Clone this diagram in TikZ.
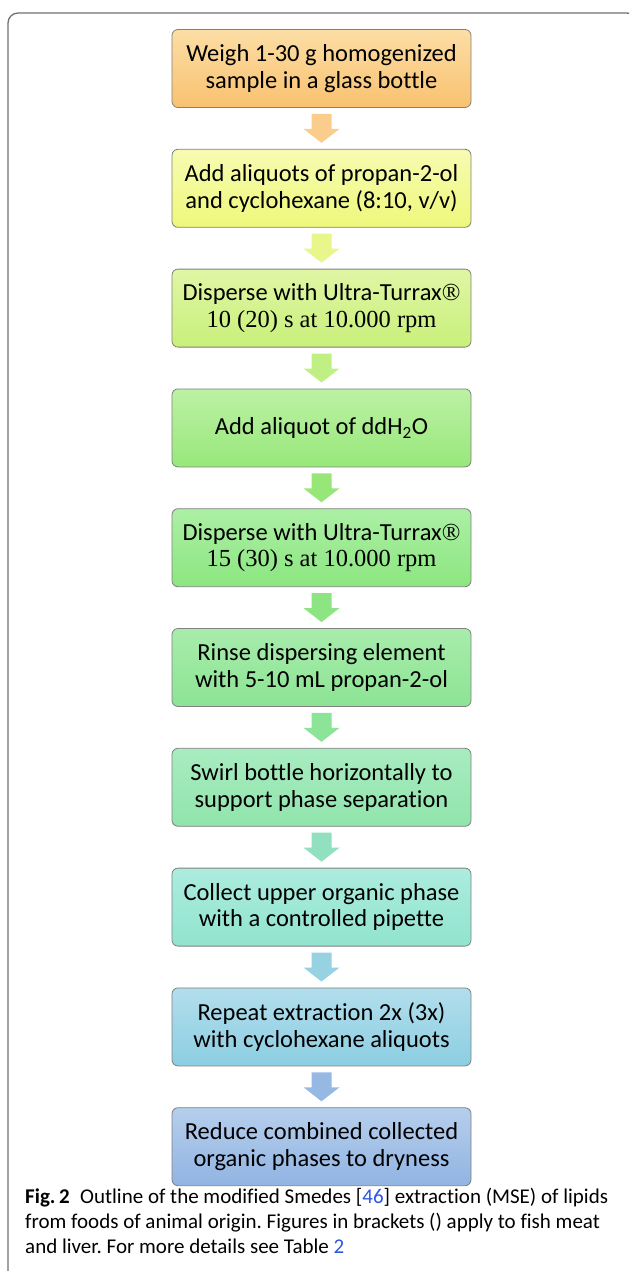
\documentclass[tikz,border=0pt]{standalone}
\usepackage{fontspec}
\setmainfont{Carlito}[Ligatures=NoCommon]
\newfontfamily\serfont{Liberation Serif}
\usepackage{tikz}
\usetikzlibrary{positioning,calc}
\frenchspacing

\definecolor{framegray}{RGB}{112,112,112}
\definecolor{boxline}{RGB}{128,128,128}
\definecolor{linkblue}{RGB}{45,85,225}
\definecolor{topA}{RGB}{252,222,165}\definecolor{botA}{RGB}{249,193,112}
\definecolor{topB}{RGB}{247,251,178}\definecolor{botB}{RGB}{238,248,122}
\definecolor{topC}{RGB}{224,246,165}\definecolor{botC}{RGB}{200,240,122}
\definecolor{topD}{RGB}{188,241,165}\definecolor{botD}{RGB}{152,232,122}
\definecolor{topE}{RGB}{172,239,165}\definecolor{botE}{RGB}{140,230,128}
\definecolor{topF}{RGB}{168,236,172}\definecolor{botF}{RGB}{140,228,148}
\definecolor{topG}{RGB}{168,236,192}\definecolor{botG}{RGB}{145,228,172}
\definecolor{topH}{RGB}{172,236,222}\definecolor{botH}{RGB}{145,228,206}
\definecolor{topI}{RGB}{178,222,236}\definecolor{botI}{RGB}{140,206,226}
\definecolor{topJ}{RGB}{182,206,236}\definecolor{botJ}{RGB}{145,180,226}
\definecolor{arrA}{RGB}{250,205,140}
\definecolor{arrB}{RGB}{232,246,140}
\definecolor{arrC}{RGB}{192,240,132}
\definecolor{arrD}{RGB}{150,230,120}
\definecolor{arrE}{RGB}{140,228,130}
\definecolor{arrF}{RGB}{140,228,152}
\definecolor{arrG}{RGB}{145,225,192}
\definecolor{arrH}{RGB}{150,210,226}
\definecolor{arrI}{RGB}{150,185,228}

\begin{document}
\begin{tikzpicture}[x=1pt,y=1pt,
  stepbox/.style 2 args={draw=boxline,line width=0.8pt,rounded corners=6pt,
    top color=#1,bottom color=#2,minimum width=299pt,minimum height=78pt,
    align=center,inner sep=0pt,font=\fontsize{24.5}{26.5}\selectfont},
  node distance=41pt]

  \useasboundingbox (0,0) rectangle (629,-1271);
  \clip (0,0) rectangle (629,-1271);

  % outer frame of the figure
  \draw[framegray,line width=1.3pt,rounded corners=10pt]
    (8,-1300) -- (8,-13) -- (637,-13) -- (637,-60);

  % steps of the extraction
  \node[stepbox={topA}{botA}] (weigh) at (321.5,-68.5)
    {Weigh 1-30 g homogenized\\sample in a glass bottle};
  \node[stepbox={topB}{botB},below=of weigh] (solvents)
    {Add aliquots of propan-2-ol\\and cyclohexane (8:10, v/v)};
  \node[stepbox={topC}{botC},below=of solvents] (dispA)
    {Disperse with Ultra-Turrax{\serfont ®}\\{\serfont 10 (20) s at 10.000 rpm}};
  \node[stepbox={topD}{botD},below=of dispA] (water)
    {Add aliquot of ddH\textsubscript{2}O};
  \node[stepbox={topE}{botE},below=of water] (dispB)
    {Disperse with Ultra-Turrax{\serfont ®}\\{\serfont 15 (30) s at 10.000 rpm}};
  \node[stepbox={topF}{botF},below=of dispB] (rinse)
    {Rinse dispersing element\\with 5-10 mL propan-2-ol};
  \node[stepbox={topG}{botG},below=of rinse] (swirl)
    {Swirl bottle horizontally to\\support phase separation};
  \node[stepbox={topH}{botH},below=of swirl] (collect)
    {Collect upper organic phase\\with a controlled pipette};
  \node[stepbox={topI}{botI},below=of collect] (repeat)
    {Repeat extraction 2x (3x)\\with cyclohexane aliquots};
  \node[stepbox={topJ}{botJ},below=of repeat] (reduce)
    {Reduce combined collected\\organic phases to dryness};

  % block arrows between the steps
  \foreach \from/\to/\col in {weigh/solvents/arrA,solvents/dispA/arrB,
      dispA/water/arrC,water/dispB/arrD,dispB/rinse/arrE,rinse/swirl/arrF,
      swirl/collect/arrG,collect/repeat/arrH,repeat/reduce/arrI}{
    \fill[\col] ($(\from.south)+(-10,-6)$) -- ++(20,0) -- ++(0,-15) -- ++(8,0)
      -- ($(\to.north)+(0,6)$) -- ($(\from.south)+(-18,-21)$) -- ++(8,0) -- cycle;
  }

  % caption
  \node[anchor=north west,inner sep=0pt,align=left,
    font=\fontsize{21}{25}\selectfont] (caption) at (25,-1188)
    {\textbf{Fig.\,2}\enspace Outline of the modified Smedes [\textcolor{linkblue}{46}] extraction (MSE) of lipids\\
     from foods of animal origin. Figures in brackets () apply to fish meat\\
     and liver. For more details see Table \textcolor{linkblue}{2}};

\end{tikzpicture}
\end{document}
